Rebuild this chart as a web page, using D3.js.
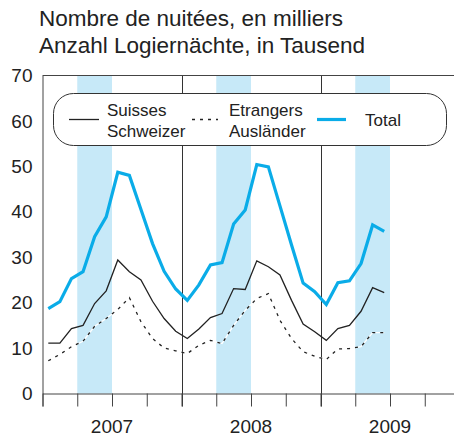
<!DOCTYPE html>
<html>
<head>
<meta charset="utf-8">
<script src="https://cdn.jsdelivr.net/npm/d3@7/dist/d3.min.js"></script>
<style>
	body { margin: 0; background: #fff; }
	svg { display: block; font-family: "Liberation Sans", Arial, sans-serif; }
</style>
</head>
<body>
<svg id="chart" width="454" height="438"></svg>
<script>
// months Jan 2007 .. Jun 2009
var years = ["2007", "2008", "2009"];
var yTicks = [0, 10, 20, 30, 40, 50, 60, 70];
var titleLines = ["Nombre de nuitées, en milliers", "Anzahl Logiernächte, in Tausend"];

var suisses = [11.1, 11.1, 14.3, 15.0, 19.8, 22.6, 29.4, 26.8, 25.0, 20.3, 16.5, 13.7,
	12.1, 14.2, 16.7, 17.6, 23.1, 22.9, 29.2, 27.9, 26.1, 20.5, 15.3, 13.6,
	11.7, 14.3, 15.0, 18.1, 23.3, 22.2];
var etrangers = [7.2, 8.6, 10.3, 11.5, 14.8, 16.5, 18.5, 21.1, 15.8, 12.1, 10.0, 9.4,
	8.8, 10.6, 11.7, 11.0, 15.0, 18.3, 20.9, 22.0, 16.1, 12.1, 9.2, 8.2,
	7.5, 9.8, 9.9, 10.3, 13.4, 13.4];
var total = [18.7, 20.2, 25.3, 26.8, 34.5, 38.9, 48.7, 48.0, 40.5, 33.0, 26.9, 23.0,
	20.5, 23.9, 28.3, 28.8, 37.3, 40.4, 50.4, 49.9, 41.3, 32.7, 24.3, 22.4,
	19.6, 24.4, 24.8, 28.6, 37.1, 35.7];

var legendItems = [
	{lines: ["Suisses", "Schweizer"], kind: "ch"},
	{lines: ["Etrangers", "Ausländer"], kind: "et"},
	{lines: ["Total"], kind: "tot"}
];

var blue = "#0aace8";
var band = "#c7e9f8";
var ink = "#222";

var svg = d3.select("#chart");

var x = d3.scaleLinear().domain([0, 36]).range([42.5, 459.5]);
var y = d3.scaleLinear().domain([0, 70]).range([393.5, 75.5]);

// title
svg.append("g").selectAll("text").data(titleLines).enter().append("text")
	.attr("x", 39)
	.attr("y", function(d, i) { return 26 + i * 26.5; })
	.attr("font-size", "22.5px")
	.attr("fill", ink)
	.text(function(d) { return d; });

// summer bands (Apr-Jun)
svg.append("g").selectAll("rect").data(years).enter().append("rect")
	.attr("x", function(d, i) { return x(i * 12 + 3); })
	.attr("width", x(3) - x(0))
	.attr("y", y(70))
	.attr("height", y(0) - y(70))
	.attr("fill", band);

// year separators
svg.append("g").selectAll("line").data([12, 24]).enter().append("line")
	.attr("x1", function(d) { return Math.round(x(d)) + 0.5; })
	.attr("x2", function(d) { return Math.round(x(d)) + 0.5; })
	.attr("y1", y(70))
	.attr("y2", y(0) + 13)
	.attr("stroke", "#333")
	.attr("stroke-width", 1);

// frame top and left
svg.append("line")
	.attr("x1", x(0)).attr("x2", 454)
	.attr("y1", y(70)).attr("y2", y(70))
	.attr("stroke", "#444");

var yAxis = svg.append("g")
	.attr("transform", "translate(" + x(0) + ",0)")
	.call(d3.axisLeft(y).tickValues(yTicks).tickSize(0).tickPadding(10));
yAxis.select(".domain").attr("stroke", "#444");
yAxis.selectAll("text")
	.attr("font-size", "19px")
	.attr("font-family", "Liberation Sans, Arial, sans-serif")
	.attr("fill", ink);

var xAxis = svg.append("g")
	.attr("transform", "translate(0," + y(0) + ")")
	.call(d3.axisBottom(x).tickValues(d3.range(0, 37, 3)).tickSize(13).tickFormat(""));
xAxis.select(".domain").attr("stroke", "#444");
xAxis.selectAll(".tick line").attr("stroke", "#444");

// year labels
svg.append("g").selectAll("text").data(years).enter().append("text")
	.attr("x", function(d, i) { return x(i * 12 + 6); })
	.attr("y", 433)
	.attr("text-anchor", "middle")
	.attr("font-size", "19px")
	.attr("fill", ink)
	.text(function(d) { return d; });

// legend box
svg.append("rect")
	.attr("x", 53.5).attr("y", 93.5)
	.attr("width", 393).attr("height", 52)
	.attr("rx", 20)
	.attr("fill", "#fff")
	.attr("stroke", "#333");

// series lines
var line = d3.line()
	.x(function(d, i) { return x(i + 0.5); })
	.y(function(d) { return y(d); });

svg.append("path").datum(etrangers)
	.attr("d", line).attr("fill", "none")
	.attr("stroke", "#fff").attr("stroke-width", 1.3);
svg.append("path").datum(etrangers)
	.attr("d", line).attr("fill", "none")
	.attr("stroke", ink).attr("stroke-width", 1.3)
	.attr("stroke-dasharray", "3,5");
svg.append("path").datum(suisses)
	.attr("d", line).attr("fill", "none")
	.attr("stroke", ink).attr("stroke-width", 1.3);
svg.append("path").datum(total)
	.attr("d", line).attr("fill", "none")
	.attr("stroke", blue).attr("stroke-width", 3.2)
	.attr("stroke-linejoin", "miter");

// legend entries
var legendX = [69, 192, 317];
var legendW = [30, 26, 29];
var lg = svg.append("g").selectAll("g").data(legendItems).enter().append("g")
	.attr("transform", function(d, i) { return "translate(" + legendX[i] + ",119.5)"; });

lg.append("line")
	.attr("x1", 0)
	.attr("x2", function(d, i) { return legendW[i]; })
	.attr("stroke", function(d) { return d.kind == "tot" ? blue : ink; })
	.attr("stroke-width", function(d) { return d.kind == "tot" ? 3.2 : 1.3; })
	.attr("stroke-dasharray", function(d) { return d.kind == "et" ? "3,5" : null; });

lg.each(function(d, i)
{
	var g = d3.select(this);
	var tx = i == 2 ? 48 : (i == 0 ? 38 : 37);
	d.lines.forEach(function(t, j)
	{
		g.append("text")
			.attr("x", tx)
			.attr("y", d.lines.length == 1 ? 6 : -4 + j * 21.5)
			.attr("font-size", "17px")
			.attr("fill", ink)
			.text(t);
	});
});
</script>
</body>
</html>
